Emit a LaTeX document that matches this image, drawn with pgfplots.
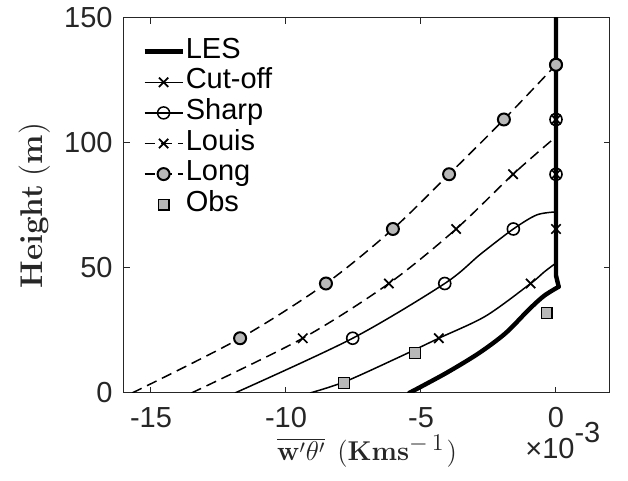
\RequirePackage{fix-cm}
\documentclass[border=0pt]{standalone}
\usepackage[no-math]{fontspec}
\setmainfont{Liberation Sans}
\usepackage{pgfplots}
\pgfplotsset{compat=1.18}
\definecolor{axc}{RGB}{38,38,38}
\definecolor{mfill}{RGB}{184,184,184}
\newcommand{\tickfont}{\fontsize{14.5}{17}\selectfont}
\begin{document}
\begin{tikzpicture}
\begin{axis}[
  scale only axis, width=243pt, height=187.5pt,
  xmin=-16, xmax=2, ymin=0, ymax=150,
  xtick={-15,-10,-5,0}, xticklabels={-15,-10,-5,0},
  ytick={0,50,100,150}, yticklabels={0,50,100,150},
  tick align=inside, major tick length=3pt,
  axis line style={axc, line width=0.5pt},
  tick style={axc, line width=0.5pt},
  ticklabel style={font=\tickfont, text=axc},
  xticklabel style={anchor=base, yshift=-17.5pt},
  yticklabel style={anchor=east, xshift=-2.2pt},
  xlabel={$\overline{\mathbf{w}'\theta'}$\hspace{6pt}$(\mathbf{Kms}$\raisebox{5pt}{\fontsize{12}{13}\selectfont$-\mkern3mu 1$}\hspace{1.5pt}$)$},
  ylabel={$\mathbf{Height}\ (\mathbf{m})$},
  xlabel style={at={(axis description cs:0.5,-0.1813)}, anchor=base, font=\fontsize{13.6}{16}\selectfont, text=axc},
  ylabel style={at={(axis description cs:-0.1687,0.5)}, anchor=base, font=\fontsize{15.7}{19}\selectfont, text=axc},
  legend image code/.code={\draw[mark repeat=2,mark phase=2,#1] plot coordinates {(0pt,0pt)(9.5pt,0pt)(19pt,0pt)};},
  legend style={draw=none, fill=none, at={(axis description cs:0,1)}, anchor=north west,
    xshift=9pt, yshift=-9pt, inner sep=0pt, font=\tickfont, row sep=0pt, column sep=0.5pt,
    nodes={inner sep=0pt, text height=11pt, text depth=4.3pt}},
  legend cell align=left,
]
% LES
\addplot[black, line width=2.2pt, smooth, tension=0.5, line cap=round, forget plot] coordinates
  {(-5.44,0)(-4.08,7.9)(-2.86,15.9)(-1.87,23.9)(-1.02,33.2)(-0.45,38.8)(0.1,42.5)};
\addplot[black, line width=2.2pt, line cap=round, line join=round, forget plot] coordinates
  {(0.1,42.5)(0,47)(0,150)};
% Cut-off
\addplot[black, line width=0.75pt, smooth, forget plot] coordinates
  {(-9.11,0)(-7.8,4.6)(-5.78,14.5)(-4.34,21.9)(-2.6,30.8)(-0.94,43.8)(-0.45,48.3)(-0.1,51.2)(0,51.8)};
\addplot[black, only marks, mark=x, mark size=3.3pt, line width=0.85pt, forget plot] coordinates
  {(-4.34,21.9)(-0.94,43.8)(0,65.6)(0,87.5)(0,109.4)(0,131.3)};
% Sharp
\addplot[black, line width=0.75pt, smooth, forget plot] coordinates
  {(-11.89,0)(-7.53,21.9)(-4.12,43.8)(-2.8,55.5)(-1.58,65.6)(-0.72,71.2)(-0.04,72.4)};
\addplot[black, only marks, mark=o, mark size=3pt, line width=0.8pt, forget plot] coordinates
  {(-7.53,21.9)(-4.12,43.8)(-1.58,65.6)(0,87.5)(0,109.4)(0,131.3)};
% Louis
\addplot[black, line width=0.75pt, smooth, dash pattern=on 5.3pt off 3pt, forget plot] coordinates
  {(-13.5,0)(-9.38,21.9)(-6.19,43.8)(-3.7,65.6)(-1.59,87.5)(0,102.5)};
\addplot[black, only marks, mark=x, mark size=3.3pt, line width=0.85pt, forget plot] coordinates
  {(-9.38,21.9)(-6.19,43.8)(-3.7,65.6)(-1.59,87.5)(0,109.4)(0,131.3)};
% Long
\addplot[black, line width=0.75pt, smooth, dash pattern=on 5.3pt off 3pt, forget plot] coordinates
  {(-15.7,0)(-11.7,21.9)(-8.52,43.8)(-6.04,65.6)(-3.96,87.5)(-1.93,109.4)(0,131.3)};
\addplot[black, only marks, mark=*, mark size=3pt, line width=1pt, mark options={fill=mfill, draw=black}, forget plot] coordinates
  {(-11.7,21.9)(-8.52,43.8)(-6.04,65.6)(-3.96,87.5)(-1.93,109.4)(0,131.3)};
% Obs
\addplot[black, only marks, mark=square*, mark size=2.7pt, line width=0.6pt, mark options={fill=mfill, draw=black}, forget plot] coordinates
  {(-7.85,4.1)(-5.23,16.1)(-0.35,31.9)};
% legend
\addlegendimage{black, line width=2.2pt}
\addlegendentry{LES}
\addlegendimage{black, line width=0.75pt, mark=x, mark size=3.3pt, mark options={line width=0.85pt}}
\addlegendentry{Cut-off}
\addlegendimage{black, line width=0.75pt, mark=o, mark size=3pt}
\addlegendentry{Sharp}
\addlegendimage{black, line width=0.75pt, dash pattern=on 5.3pt off 3pt, mark=x, mark size=3.3pt, mark options={solid, line width=0.85pt}}
\addlegendentry{Louis}
\addlegendimage{black, line width=0.75pt, dash pattern=on 5.3pt off 3pt, mark=*, mark size=3pt, mark options={solid, fill=mfill, draw=black, line width=1pt}}
\addlegendentry{Long}
\addlegendimage{legend image code/.code={\draw[mark=square*, mark size=2.7pt, mark options={fill=mfill, draw=black, line width=0.6pt}] plot[only marks] coordinates {(9.5pt,0pt)};}}
\addlegendentry{Obs}
\end{axis}
\node[anchor=base west, font=\tickfont, text=axc, inner sep=0pt] at ([shift={(200.5pt,-33pt)}]current axis.south west) {×10\raisebox{8pt}{-3}};
\pgfresetboundingbox
\path ([shift={(-62pt,-44pt)}]current axis.south west) rectangle ([shift={(9pt,9pt)}]current axis.north east);
\end{tikzpicture}
\end{document}
